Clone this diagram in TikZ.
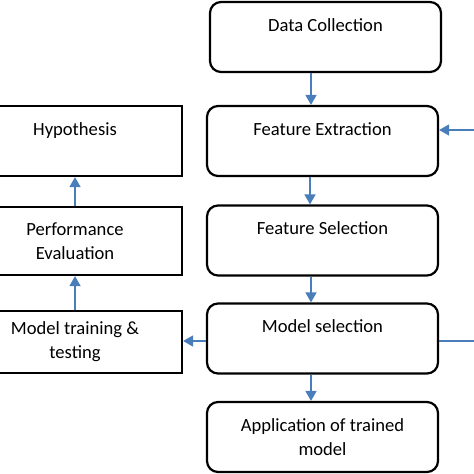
\documentclass[tikz,border=0pt]{standalone}
\usepackage{fontspec}
\setmainfont{Carlito}
\usetikzlibrary{arrows.meta,shapes,positioning}

\begin{document}
\begin{tikzpicture}[x=1pt,y=-1pt,>={Triangle[length=10pt,width=11pt]},font=\fontsize{18.6}{24}\selectfont]

  \tikzstyle{step box}=[rectangle,rounded corners=11pt,line width=2.2pt,draw=black,minimum width=231pt,minimum height=70pt,align=center]
  \tikzstyle{side box}=[rectangle,line width=2.2pt,draw=black,minimum width=214pt,align=center]
  \tikzstyle{flow}=[->,line width=1.5pt,draw={rgb,255:red,74;green,126;blue,187},fill={rgb,255:red,74;green,126;blue,187}]

  \clip (0,0) rectangle (474,474);

  % main chain
  \node[step box] (dc)  at (325.5,37)  {Data Collection\\{}};
  \node[step box] (fe)  at (322.5,141) {Feature Extraction\\{}};
  \node[step box] (fs)  at (322.5,240.5) {Feature Selection\\{}};
  \node[step box] (ms)  at (322.5,338.5) {Model selection\\{}};
  \node[step box] (app) at (322.5,437) {Application of trained\\model};

  % left column
  \node[side box,minimum height=70pt] (hyp)  at (75,141) {Hypothesis\\{}};
  \node[side box,minimum height=68pt] (perf) at (75,241) {Performance\\Evaluation};
  \node[side box,minimum height=62pt] (mt)   at (75,342) {Model training \&\\testing};

  \coordinate (fbin)  at (474,130);
  \coordinate (fbout) at (474,341);

  \draw[flow] (dc.south -| 311,0) -- (fe.north -| 311,0);
  \draw[flow] (fe.south -| 310,0) -- (fs.north -| 310,0);
  \draw[flow] (fs.south -| 311,0) -- (ms.north -| 311,0);
  \draw[flow] (ms.south -| 311,0) -- (app.north -| 311,0);
  \draw[flow] (ms.west |- fbout) -- (mt.east |- fbout);
  \draw[flow] (mt.north) -- (perf.south);
  \draw[flow] (perf.north) -- (hyp.south);
  \draw[flow] (fbin) -- (fe.east |- fbin);
  \draw[flow,-] (ms.east |- fbout) -- (fbout);

\end{tikzpicture}
\end{document}
